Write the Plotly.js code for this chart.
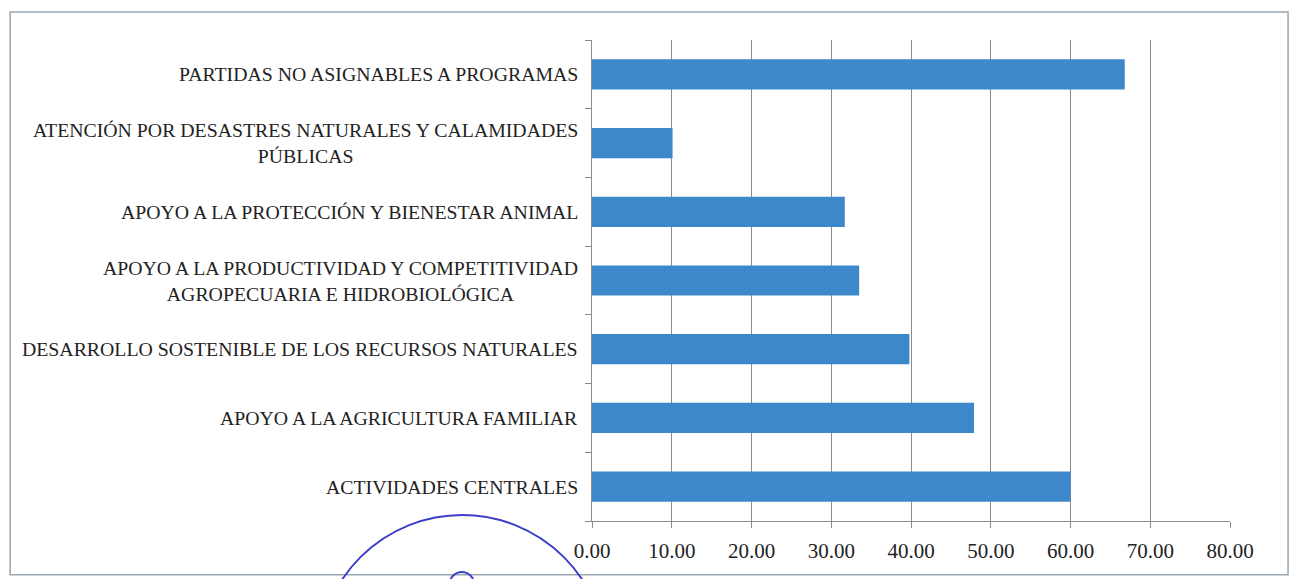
<!DOCTYPE html>
<html>
<head>
<meta charset="utf-8">
<script src="https://cdn.plot.ly/plotly-3.0.1.min.js"></script>
<style>html,body{margin:0;padding:0;background:#fff;}#chart{width:1295px;height:579px;}</style>
</head>
<body>
<div id="chart"></div>
<script>
const categories = [
  "ACTIVIDADES CENTRALES",
  "APOYO A LA AGRICULTURA FAMILIAR",
  "DESARROLLO SOSTENIBLE DE LOS RECURSOS NATURALES",
  "APOYO A LA PRODUCTIVIDAD Y COMPETITIVIDAD<br>AGROPECUARIA E HIDROBIOLÓGICA",
  "APOYO A LA PROTECCIÓN Y BIENESTAR ANIMAL",
  "ATENCIÓN POR DESASTRES NATURALES Y CALAMIDADES<br>PÚBLICAS",
  "PARTIDAS NO ASIGNABLES A PROGRAMAS"
];
const values = [60.0, 47.9, 39.8, 33.5, 31.7, 10.1, 66.8];
const xTicks = [0, 10, 20, 30, 40, 50, 60, 70, 80];
const xTickLabels = ["0.00", "10.00", "20.00", "30.00", "40.00", "50.00", "60.00", "70.00", "80.00"];

const trace = {
  type: "bar",
  orientation: "h",
  x: values,
  y: categories,
  marker: {color: "#3d87cb"},
  width: 0.44,
  hoverinfo: "x+y"
};

// category labels drawn as annotations so multi-line labels are centred
const labelAnnotations = categories.map(c => ({
  xref: "paper", yref: "y", x: 0, y: c,
  text: c, showarrow: false,
  xanchor: "right", yanchor: "middle", align: "center",
  xshift: -12,
  font: {family: "Liberation Serif, DejaVu Serif, serif", size: 19.8, color: "#222222"}
}));

const layout = {
  width: 1295,
  height: 579,
  margin: {l: 592, r: 65, t: 40, b: 58},
  paper_bgcolor: "#ffffff",
  plot_bgcolor: "#ffffff",
  showlegend: false,
  font: {family: "Liberation Serif, DejaVu Serif, serif", size: 19.5, color: "#222222"},
  xaxis: {
    range: [0, 80],
    tickvals: xTicks,
    ticktext: xTickLabels,
    showgrid: true,
    gridcolor: "#8c8c8c",
    gridwidth: 1,
    zeroline: false,
    showline: true,
    linecolor: "#8c8c8c",
    ticks: "outside",
    ticklen: 6,
    tickcolor: "#8c8c8c",
    ticklabelstandoff: 5,
    tickfont: {size: 21},
    fixedrange: true
  },
  yaxis: {
    type: "category",
    showgrid: false,
    showline: true,
    linecolor: "#8c8c8c",
    ticks: "outside",
    tickson: "boundaries",
    ticklen: 6,
    tickcolor: "#8c8c8c",
    showticklabels: false,
    fixedrange: true
  },
  annotations: labelAnnotations,
  shapes: [
    {type: "rect", xref: "paper", yref: "paper", x0: -0.912, x1: 1.091, y0: -0.112, y1: 1.058,
     line: {color: "#9aa6b0", width: 1.5}, fillcolor: "rgba(0,0,0,0)", layer: "below"},
    {type: "circle", xref: "paper", yref: "paper", x0: -0.429, x1: 0.022, y0: -0.586, y1: 0.0125,
     line: {color: "#3b3fc9", width: 2}, layer: "above"},
    {type: "circle", xref: "paper", yref: "paper", x0: -0.223, x1: -0.185, y0: -0.156, y1: -0.106,
     line: {color: "#3b3fc9", width: 2}, layer: "above"}
  ]
};

Plotly.newPlot("chart", [trace], layout, {displayModeBar: false, staticPlot: true});
</script>
</body>
</html>
